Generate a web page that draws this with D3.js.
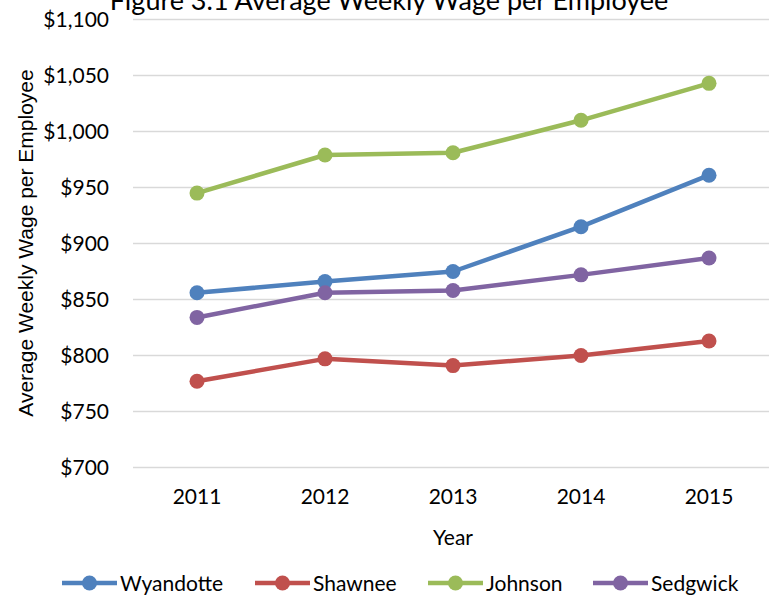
<!DOCTYPE html>
<html>
<head>
<meta charset="utf-8">
<script src="https://cdn.jsdelivr.net/npm/d3@7"></script>
<style>
  html, body { margin: 0; padding: 0; background: #fff; }
  svg { display: block; }
  text { font-family: Lato, "Open Sans", sans-serif; fill: #000; }
</style>
</head>
<body>
<svg id="chart" width="769" height="596"></svg>
<script>
// Average weekly wage per employee, by county
const years = ["2011", "2012", "2013", "2014", "2015"];
const wyandotte = [856, 866, 875, 915, 961];
const shawnee   = [777, 797, 791, 800, 813];
const johnson   = [945, 979, 981, 1010, 1043];
const sedgwick  = [834, 856, 858, 872, 887];
const yTicks = [700, 750, 800, 850, 900, 950, 1000, 1050, 1100];

const series = [
  { name: "Wyandotte", values: wyandotte, color: "#4F81BD" },
  { name: "Shawnee",   values: shawnee,   color: "#C0504D" },
  { name: "Johnson",   values: johnson,   color: "#9BBB59" },
  { name: "Sedgwick",  values: sedgwick,  color: "#8064A2" }
];

const svg = d3.select("#chart");
const plot = { left: 133, right: 773, top: 19.5, bottom: 467.5 };

const x = d3.scaleBand().domain(years).range([plot.left, plot.right]);
const y = d3.scaleLinear().domain([700, 1100]).range([plot.bottom, plot.top]);
const cx = d => x(d) + x.bandwidth() / 2;

// Title (sits partly above the visible area)
svg.append("text")
  .attr("x", 389).attr("y", 10)
  .attr("text-anchor", "middle")
  .style("font-size", "27px")
  .text("Figure 3.1 Average Weekly Wage per Employee");

// Horizontal gridlines
svg.append("g")
  .selectAll("line").data(yTicks).join("line")
  .attr("x1", plot.left).attr("x2", plot.right)
  .attr("y1", d => y(d)).attr("y2", d => y(d))
  .attr("stroke", "#D9D9D9").attr("stroke-width", 1.5);

// Y axis labels
const yAxis = d3.axisLeft(y).tickValues(yTicks)
  .tickFormat(d => "$" + d3.format(",")(d)).tickSize(0).tickPadding(24);
const gy = svg.append("g").attr("transform", `translate(${plot.left},0)`).call(yAxis);
gy.select(".domain").remove();
gy.selectAll("text").style("font-size", "21px").style("font-family", "Lato, sans-serif");

// X axis labels
const xAxis = d3.axisBottom(x).tickSize(0).tickPadding(22);
const gx = svg.append("g").attr("transform", `translate(0,${plot.bottom})`).call(xAxis);
gx.select(".domain").remove();
gx.selectAll("text").style("font-size", "21px").style("font-family", "Lato, sans-serif");

// Axis titles
svg.append("text")
  .attr("x", 453).attr("y", 545)
  .attr("text-anchor", "middle")
  .style("font-size", "21px")
  .text("Year");

svg.append("text")
  .attr("transform", "translate(33,243) rotate(-90)")
  .attr("text-anchor", "middle")
  .style("font-family", "'Liberation Sans', Arial, sans-serif")
  .style("font-size", "21px")
  .text("Average Weekly Wage per Employee");

// Series lines and markers
const line = d3.line().x((d, i) => cx(years[i])).y(d => y(d));
const gs = svg.append("g").selectAll("g").data(series).join("g");
gs.append("path")
  .attr("d", d => line(d.values))
  .attr("fill", "none")
  .attr("stroke", d => d.color)
  .attr("stroke-width", 4.5)
  .attr("stroke-linejoin", "round")
  .attr("stroke-linecap", "round");
gs.selectAll("circle").data(d => d.values.map((v, i) => ({ v, i, color: d.color }))).join("circle")
  .attr("cx", d => cx(years[d.i]))
  .attr("cy", d => y(d.v))
  .attr("r", 7.5)
  .attr("fill", d => d.color);

// Legend
const legendX = [62, 255, 428, 593];
const lg = svg.append("g").selectAll("g").data(series).join("g")
  .attr("transform", (d, i) => `translate(${legendX[i]},583)`);
lg.append("line")
  .attr("x1", 0).attr("x2", 55)
  .attr("stroke", d => d.color).attr("stroke-width", 4.5);
lg.append("circle").attr("cx", 27.5).attr("cy", 0).attr("r", 7.5).attr("fill", d => d.color);
lg.append("text")
  .attr("x", 58).attr("y", 7.5)
  .style("font-size", "21px")
  .text(d => d.name);
</script>
</body>
</html>
